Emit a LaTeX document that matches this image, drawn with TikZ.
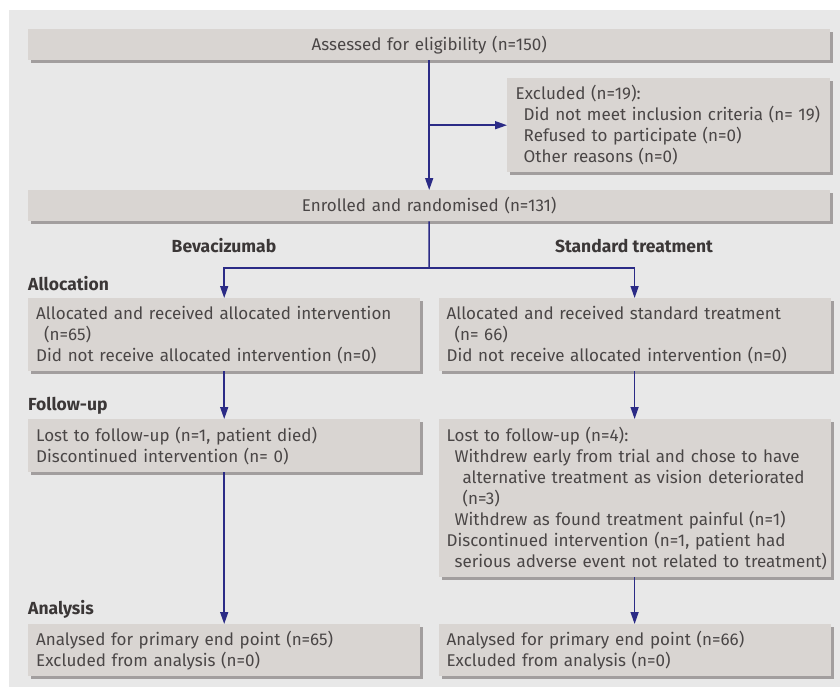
\documentclass[tikz,border=0pt]{standalone}
\usepackage{fontspec}
\setmainfont{Fira Sans}
\usetikzlibrary{positioning,shadows,arrows.meta}

\definecolor{panelgray}{HTML}{E8E8E8}
\definecolor{boxfill}{HTML}{D9D5D2}
\definecolor{boxshadow}{HTML}{A29E9E}
\definecolor{boxtext}{HTML}{4A4646}
\definecolor{headtext}{HTML}{3B3737}
\definecolor{navy}{HTML}{2B2B86}

\tikzset{
  box/.style={fill=boxfill, anchor=north west, inner xsep=8.5pt, inner ysep=0pt,
    drop shadow={shadow xshift=3pt, shadow yshift=-3pt, fill=boxshadow, opacity=1},
    text=boxtext, font=\fontsize{17}{21}\selectfont, align=left},
  widebox/.style={box, text width=785pt, minimum height=31pt, align=center},
  armbox/.style={box, text width=376pt, inner xsep=8pt},
  heading/.style={font=\fontsize{17.5}{20}\selectfont\bfseries, text=headtext, inner sep=0pt},
  flow/.style={draw=navy, line width=1.5pt, -{Triangle[length=12pt,width=8pt]}},
  trunk/.style={draw=navy, line width=1.5pt},
}
\newcommand{\ind}{\hspace*{8pt}}

\begin{document}
\begin{tikzpicture}[x=1pt,y=-1pt]
  \useasboundingbox (0,0) rectangle (840,688);
  \fill[panelgray] (9,10) rectangle (840,687);

  \node[widebox] (assess) at (28,29) {Assessed for eligibility (n=150)};
  \node[box, text width=306pt, minimum height=94pt] (excl) at (507,78)
    {Excluded (n=19):\\
     \ind\mbox{Did not meet inclusion criteria (n= 19)}\\
     \ind Refused to participate (n=0)\\
     \ind Other reasons (n=0)};
  \node[widebox] (enrol) at (28,190) {Enrolled and randomised (n=131)};

  \node[heading, anchor=base] (bev) at (224,252) {Bevacizumab};
  \node[heading, anchor=base] (std) at (634,252) {Standard treatment};

  % allocation
  \node[heading, anchor=base west] (allochead) at (28,290) {Allocation};
  \node[armbox, minimum height=73pt] (allocL) at (28,298)
    {Allocated and received allocated intervention\\
     \ind(n=65)\\
     Did not receive allocated intervention (n=0)};
  \node[armbox, minimum height=73pt, right=18pt of allocL.north east, anchor=north west] (allocR)
    {Allocated and received standard treatment\\
     \ind(n= 66)\\
     Did not receive allocated intervention (n=0)};

  % follow-up
  \node[heading, anchor=base west] (fuhead) at (28,410) {Follow-up};
  \node[armbox, minimum height=53pt] (fuL) at (28,419)
    {Lost to follow-up (n=1, patient died)\\
     Discontinued intervention (n= 0)};
  \node[armbox, minimum height=158pt, right=18pt of fuL.north east, anchor=north west] (fuR)
    {Lost to follow-up (n=4):\\
     \ind\mbox{Withdrew early from trial and chose to have}\\
     \ind\ind\mbox{alternative treatment as vision deteriorated}\\
     \ind\ind(n=3)\\
     \ind\mbox{Withdrew as found treatment painful (n=1)}\\
     \mbox{Discontinued intervention (n=1, patient had}\\
     \ind\mbox{serious adverse event not related to treatment)}};

  % analysis
  \node[heading, anchor=base west] (anhead) at (28,614) {Analysis};
  \node[armbox, minimum height=52pt] (anL) at (28,624)
    {Analysed for primary end point (n=65)\\
     Excluded from analysis (n=0)};
  \node[armbox, minimum height=52pt, right=18pt of anL.north east, anchor=north west] (anR)
    {Analysed for primary end point (n=66)\\
     Excluded from analysis (n=0)};

  \coordinate (branch) at (assess.south |- excl.west);
  \coordinate (split) at (429,268);
  \draw[flow] (assess) -- (enrol);
  \draw[flow] (branch) -- (excl);
  \draw[trunk] (enrol) -- (split);
  \draw[flow] (split) -| (allocL);
  \draw[flow] (split) -| (allocR);
  \draw[flow] (allocL) -- (fuL);
  \draw[flow] (allocR) -- (fuR);
  \draw[flow] (fuL) -- (anL);
  \draw[flow] (fuR) -- (anR);
\end{tikzpicture}
\end{document}
